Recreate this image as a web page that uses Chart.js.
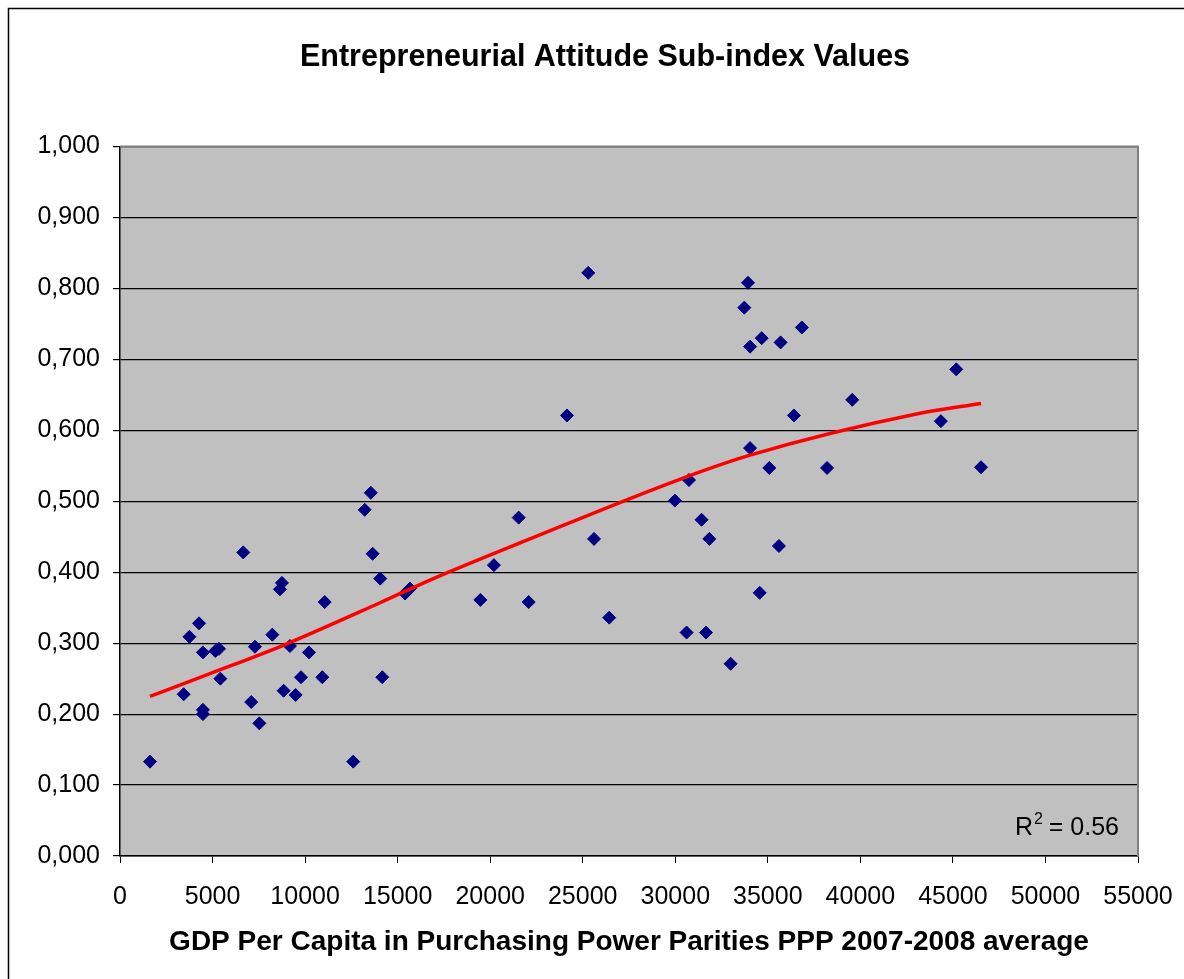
<!DOCTYPE html>
<html>
<head>
<meta charset="utf-8">
<title>Entrepreneurial Attitude Sub-index Values</title>
<script src="https://cdn.jsdelivr.net/npm/chart.js@4.4.1/dist/chart.umd.min.js"></script>
<style>
  body { margin: 0; background: #fff; }
</style>
</head>
<body>
<canvas id="attitudeChart" width="1184" height="979"></canvas>
<script>
// DATA

const gdpValues = [
  1620, 3440, 3750, 4270, 4480, 4480, 4480, 5150, 5350, 5420,
  6660, 7090, 7290, 7530, 8230, 8640, 8750, 8840, 9180, 9490,
  9780, 10210, 10930, 11060, 12600, 13220, 13550, 13650, 14060, 14170,
  15400, 15670, 19470, 20200, 21540, 22080, 24150, 25300, 25610, 26430,
  29980, 30610, 30740, 31420, 31660, 31840, 32990, 33730, 33930, 34040,
  34040, 34560, 34670, 35080, 35600, 35690, 36410, 36840, 38200, 39560,
  44350, 45180, 46520
];
const attitudeValues = [
  0.133, 0.228, 0.309, 0.328, 0.287, 0.206, 0.200, 0.289, 0.292, 0.250,
  0.428, 0.217, 0.295, 0.187, 0.312, 0.376, 0.385, 0.233, 0.296, 0.227,
  0.252, 0.287, 0.252, 0.358, 0.133, 0.488, 0.512, 0.426, 0.391, 0.252,
  0.370, 0.377, 0.361, 0.410, 0.477, 0.358, 0.621, 0.822, 0.447, 0.336,
  0.501, 0.315, 0.530, 0.474, 0.315, 0.447, 0.271, 0.773, 0.808, 0.718,
  0.575, 0.371, 0.730, 0.547, 0.437, 0.724, 0.621, 0.745, 0.547, 0.643,
  0.613, 0.686, 0.548
];

// trend line as drawn in the original
const trendGdp = [1620, 4860, 8820, 14050, 16750, 22150, 30250, 34040, 43220, 46520];
const trendValues = [0.225, 0.257, 0.297, 0.357, 0.389, 0.447, 0.531, 0.565, 0.624, 0.638];

const rSquaredText = "0.56";

const points = gdpValues.map((x, i) => ({ x: x, y: attitudeValues[i] }));
const trend = trendGdp.map((x, i) => ({ x: x, y: trendValues[i] }));

const FONT = "'Liberation Sans', Arial, sans-serif";

// PLOT BACKGROUND + FRAME

const plotFrame = {
  id: "plotFrame",
  afterLayout(chart) {
    // the title sits a bit right of the canvas centre in the original
    const t = chart.titleBlock;
    if (t) {
      t.left = 72;
      t.right = 1138;
    }
  },
  beforeDraw(chart) {
    const { ctx, chartArea: a, width, height } = chart;
    ctx.save();
    ctx.fillStyle = "#fff";
    ctx.fillRect(0, 0, width, height);
    ctx.strokeStyle = "#000";
    ctx.lineWidth = 1.5;
    ctx.beginPath();
    ctx.moveTo(8.5, height);
    ctx.lineTo(8.5, 8.5);
    ctx.lineTo(width, 8.5);
    ctx.stroke();
    ctx.fillStyle = "#c0c0c0";
    ctx.fillRect(a.left, a.top, a.right - a.left, a.bottom - a.top);
    ctx.restore();
  },
  beforeDatasetsDraw(chart) {
    const { ctx, chartArea: a } = chart;
    ctx.save();
    ctx.strokeStyle = "#808080";
    ctx.lineWidth = 2;
    ctx.beginPath();
    ctx.moveTo(a.left, a.top);
    ctx.lineTo(a.right, a.top);
    ctx.lineTo(a.right, a.bottom);
    ctx.stroke();
    ctx.restore();
  },
};

// R SQUARED LABEL

const rSquared = {
  id: "rSquared",
  afterDraw(chart) {
    const { ctx, chartArea: a } = chart;
    ctx.save();
    ctx.fillStyle = "#000";
    ctx.textBaseline = "alphabetic";
    ctx.textAlign = "left";
    const rest = " = " + rSquaredText;
    ctx.font = "25px " + FONT;
    const restW = ctx.measureText(rest).width;
    const rW = ctx.measureText("R").width;
    ctx.font = "16px " + FONT;
    const supW = ctx.measureText("2").width;
    const baseY = a.bottom - 21;
    const right = a.right - 19;
    const x0 = right - restW - supW - rW;
    ctx.font = "25px " + FONT;
    ctx.fillText("R", x0, baseY);
    ctx.fillText(rest, x0 + rW + supW, baseY);
    ctx.font = "16px " + FONT;
    ctx.fillText("2", x0 + rW + 1, baseY - 11);
    ctx.restore();
  },
};

// CHART

const ctx = document.getElementById("attitudeChart");

new Chart(ctx, {
  type: "scatter",
  data: {
    datasets: [
      {
        label: "Trend",
        data: trend,
        showLine: true,
        borderColor: "#ff0000",
        borderWidth: 3.5,
        pointRadius: 0,
        cubicInterpolationMode: "monotone",
        order: 0,
      },
      {
        label: "Entrepreneurial Attitude",
        data: points,
        pointStyle: "rectRot",
        pointRadius: 6.5,
        backgroundColor: "#000080",
        borderColor: "#000080",
        borderWidth: 1,
        order: 1,
      },
    ],
  },
  options: {
    responsive: false,
    animation: false,
    devicePixelRatio: 1,
    layout: {
      padding: { left: 0, right: 46, top: 0, bottom: 0 },
    },
    plugins: {
      legend: { display: false },
      tooltip: { enabled: false },
      title: {
        display: true,
        text: "Entrepreneurial Attitude Sub-index Values",
        color: "#000",
        font: { family: FONT, size: 30.5, weight: "bold" },
        padding: { top: 39, bottom: 71 },
      },
    },
    scales: {
      x: {
        type: "linear",
        min: 0,
        max: 55000,
        afterFit(scale) {
          scale.height = 123;
          scale.paddingLeft = 0;
          scale.paddingRight = 0;
        },
        ticks: {
          stepSize: 5000,
          color: "#000",
          padding: 19,
          maxRotation: 0,
          font: { family: FONT, size: 25 },
          callback: (v) => String(v),
        },
        grid: {
          drawOnChartArea: false,
          drawTicks: true,
          tickLength: 7,
          tickColor: "#000",
        },
        border: { display: true, color: "#000", width: 1.5 },
        title: {
          display: true,
          text: "GDP Per Capita in Purchasing Power Parities PPP 2007-2008 average",
          color: "#000",
          font: { family: FONT, size: 28, weight: "bold" },
          padding: { top: 0, bottom: 20 },
        },
      },
      y: {
        type: "linear",
        min: 0,
        max: 1,
        afterFit(scale) {
          scale.width = 120;
        },
        ticks: {
          stepSize: 0.1,
          color: "#000",
          padding: 13,
          font: { family: FONT, size: 25 },
          callback: (v) => v.toFixed(3).replace(".", ","),
        },
        grid: {
          color: "#000",
          lineWidth: 1.2,
          drawTicks: true,
          tickLength: 7,
          tickColor: "#000",
        },
        border: { display: true, color: "#000", width: 1.5 },
      },
    },
  },
  plugins: [plotFrame, rSquared],
});
</script>
</body>
</html>
